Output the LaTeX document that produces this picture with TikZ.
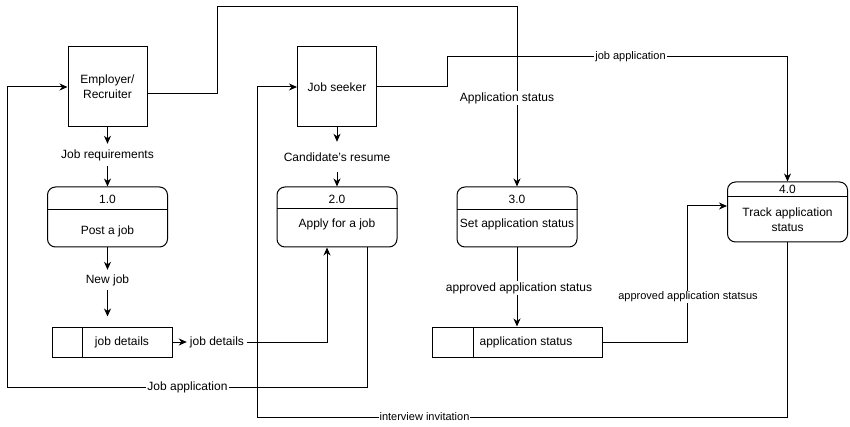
\documentclass[tikz,border=0pt]{standalone}
\usepackage{fontspec}
\setmainfont{Liberation Sans}
\usetikzlibrary{arrows.meta}
\begin{document}
\begin{tikzpicture}[x=1pt,y=-1pt,
 every node/.style={font=\fontsize{12}{15}\selectfont, inner sep=1pt},
 ent/.style={draw, line width=1pt, minimum width=79pt, minimum height=80pt, align=center},
 procbox/.style={draw, line width=1pt, rounded corners=8pt, minimum width=120pt, minimum height=60pt},
 store/.style={draw, line width=1pt, minimum height=30pt},
 txt/.style={align=center},
 lbl/.style={fill=white, inner sep=1pt},
 small/.style={font=\fontsize{11}{13}\selectfont},
 flow/.style={line width=1pt, -{Stealth[length=8pt,width=7pt,inset=2.5pt]}},
 plain/.style={line width=1pt},
]
\useasboundingbox (0,0) rectangle (850,427);

% external entities
\node[ent] (emp) at (107.5,87) {Employer/\\Recruiter};
\node[ent] (js) at (337,87) {Job seeker};

% processes
\node[procbox] (p1) at (107.5,217) {};
\draw[plain] (p1.west |- 0,210) -- (p1.east |- 0,210);
\node (t1a) at (107.5,199) {1.0};
\node (t1b) at (107.5,231) {Post a job};

\node[procbox] (p2) at (337,217) {};
\draw[plain] (p2.west |- 0,209) -- (p2.east |- 0,209);
\node (t2a) at (337,199) {2.0};
\node (t2b) at (337,224) {Apply for a job};

\node[procbox] (p3) at (517,217) {};
\draw[plain] (p3.west |- 0,210) -- (p3.east |- 0,210);
\node (t3a) at (517,199) {3.0};
\node (t3b) at (517,224) {Set application status};

\node[procbox] (p4) at (787.5,212) {};
\draw[plain] (p4.west |- 0,197) -- (p4.east |- 0,197);
\node (t4a) at (787.5,189.5) {4.0};
\node[txt] (t4b) at (787.5,219.5) {Track application\\status};

% data stores
\node[store, minimum width=120pt] (ds1) at (112.5,342) {};
\draw[plain] ([xshift=30pt]ds1.north west) -- ([xshift=30pt]ds1.south west);
\node (ds1t) at (122,342) {job details};

\node[store, minimum width=170pt] (ds2) at (517,342) {};
\draw[plain] ([xshift=42pt]ds2.north west) -- ([xshift=42pt]ds2.south west);
\node (ds2t) at (526,342) {application status};

% flows with free-standing labels
\node[minimum height=22pt] (jr) at (107.5,155) {Job requirements};
\draw[flow] (emp.south) -- (jr.north);
\draw[flow] (jr.south) -- (p1.north);

\node[minimum height=30pt] (cr) at (337,157) {Candidate's resume};
\draw[flow] (js.south) -- (cr.north);
\draw[flow] (cr.south) -- (p2.north);

\node[minimum height=20pt] (nj) at (107.5,280) {New job};
\draw[flow] (p1.south) -- (nj.north);
\draw[flow, shorten >=10pt] (nj.south) -- (nj.south |- ds1.north);

\node[inner xsep=3pt] (jd) at (217,342) {job details};
\draw[flow] (ds1.east) -- (jd.west);
\draw[flow] (jd.east) -| ([xshift=-10pt]p2.south);

% routed flows
\draw[flow] ([yshift=-7pt]emp.east) -| (217,7) -| (p3.north);
\draw[flow] (js.east) -| (447,57) -| (p4.north);
\draw[flow] (p3.south) -- (ds2.north);
\draw[flow] (ds2.east) -| (687,206) -- ([yshift=6pt]p4.west);
\draw[flow] ([xshift=30pt]p2.south) |- (7,387) |- (emp.west);
\draw[flow] (p4.south) |- (257,417) |- (js.west);

% edge labels
\node[lbl] (as) at (507,98) {Application status};
\node[lbl, small] (ja) at (630.5,57) {job application};
\node[lbl] (aas) at (519,288) {approved application status};
\node[lbl, small] (aass) at (688,297) {approved application statsus};
\node[lbl] (jaa) at (187.5,387) {Job application};
\node[lbl, small] (ii) at (424.5,417) {interview invitation};
\end{tikzpicture}
\end{document}
